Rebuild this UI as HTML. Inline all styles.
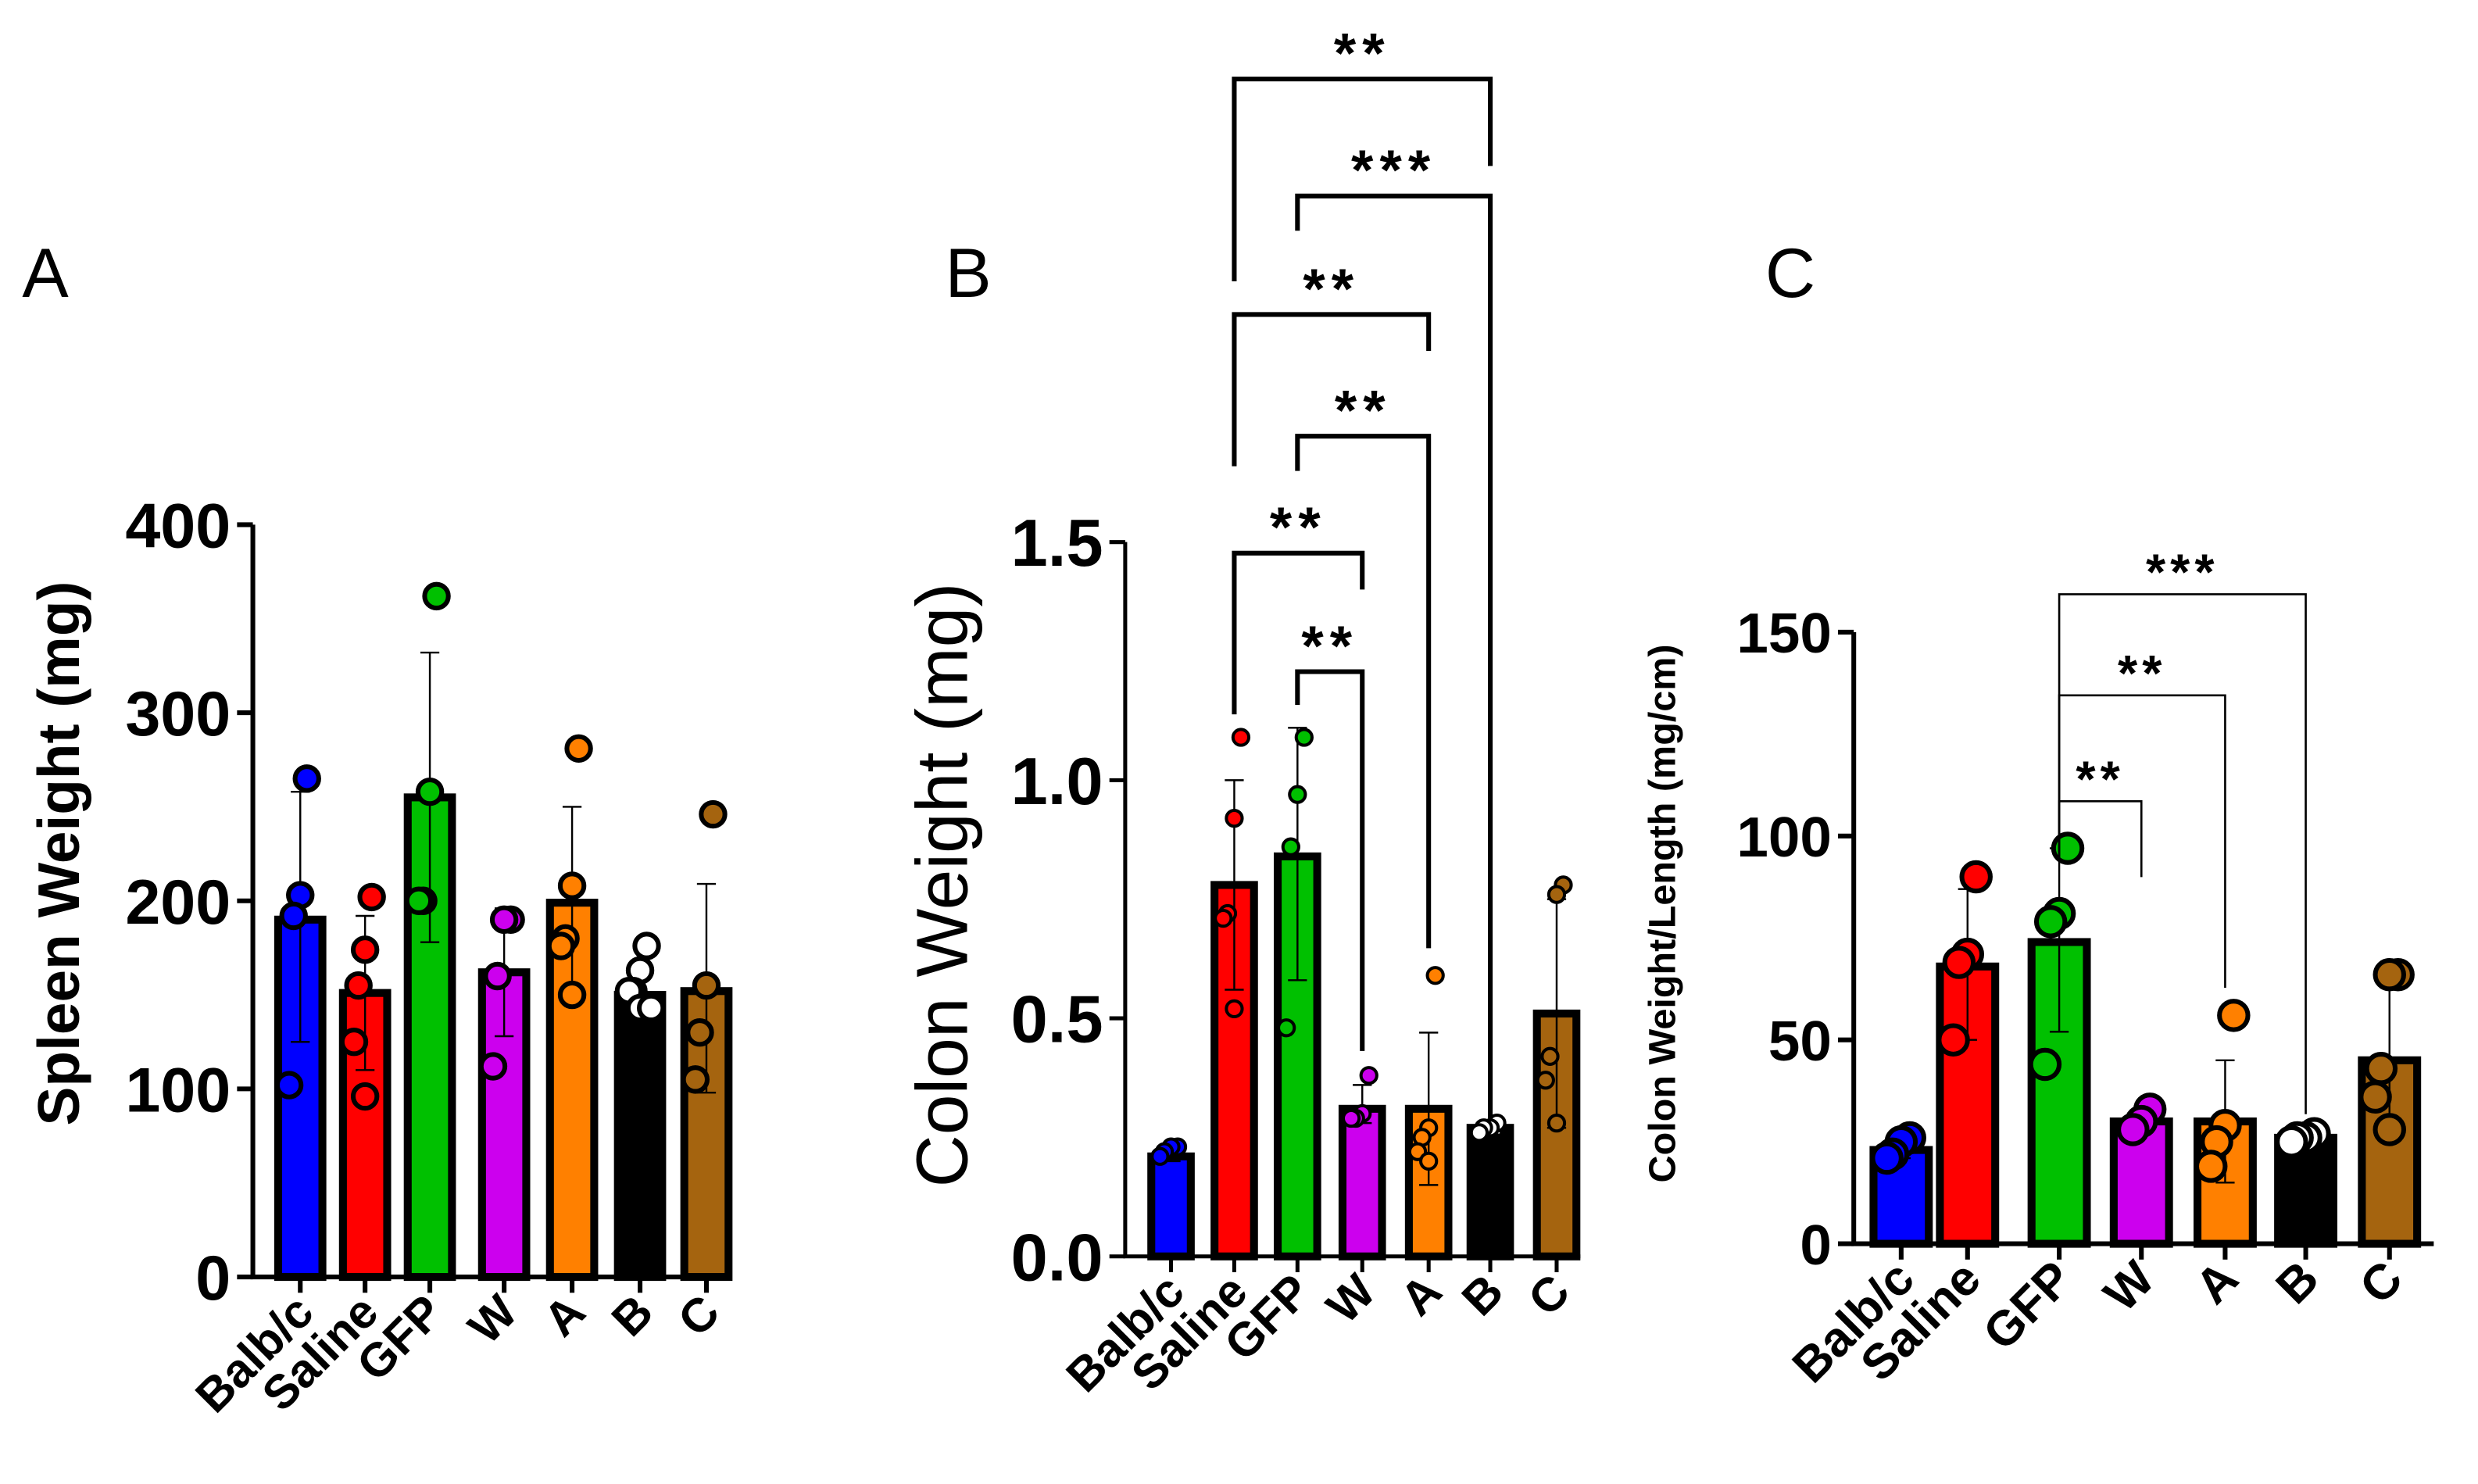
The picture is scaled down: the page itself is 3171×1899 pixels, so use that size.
<!DOCTYPE html>
<html><head><meta charset="utf-8"><style>
html,body{margin:0;padding:0;background:#fff}
svg{display:block}
text{font-family:"Liberation Sans",Arial,sans-serif}
</style></head><body>
<svg id="fig" width="3171" height="1899" viewBox="0 0 1568 939" xmlns="http://www.w3.org/2000/svg"></svg>
<script>
const groups=["Balb/c","Saline","GFP","W","A","B","C"];
const colors=["#0000ff","#ff0000","#00c000","#cc00ee","#ff8000","#000000","#a5640f"];
// Panel A
const aMeans=[190,151,255,162,199,150,152];
const aLo=[125,110,178,128,150,140,98];
const aHi=[258,192,332,196,250,160,209];
const aPts=[[265,203,192,102],[202,174,155,125,96],[362,258,200,200],[190,190,160,112],[281,208,180,176,150],[176,163,152,152,143,143],[246,155,130,105]];
const aTicks=[0,100,200,300,400];
// Panel B
const bMeans=[0.21,0.78,0.84,0.31,0.31,0.27,0.51];
const bLo=[0.20,0.56,0.58,0.28,0.15,0.26,0.27];
const bHi=[0.22,1.0,1.11,0.36,0.47,0.28,0.75];
const bPts=[[0.23,0.23,0.22,0.21],[1.09,0.92,0.72,0.71,0.52],[1.09,0.97,0.86,0.48],[0.38,0.30,0.29,0.29],[0.59,0.27,0.25,0.22,0.20],[0.28,0.27,0.27,0.26],[0.78,0.76,0.42,0.37,0.28]];
const bTicks=[0,0.5,1.0,1.5];
const bTickLabels=["0.0","0.5","1.0","1.5"];
// Panel C
const cMeans=[23,68,74,30,30,26,45];
const cLo=[21,50,52,27,15,25,27];
const cHi=[25,87,97,33,45,27,65];
const cPts=[[26,25,22,21],[90,71,69,50],[97,81,79,44],[33,30,28],[56,29,25,19],[27,26,26,25],[66,66,43,36,28]];
const cTicks=[0,50,100,150];

const NS="http://www.w3.org/2000/svg";
const svg=document.getElementById('fig');
function el(tag,attrs,parent){const e=document.createElementNS(NS,tag);for(const k in attrs)e.setAttribute(k,attrs[k]);(parent||svg).appendChild(e);return e;}

function panel(cfg){
  const g=el('g',{});
  
  
  const y=v=>cfg.y0-(v-cfg.vmin)/(cfg.vmax-cfg.vmin)*(cfg.y0-cfg.y1);
  const x=i=>cfg.xs[i];
  cfg.means.forEach((m,i)=>{
    const r=el('rect',{x:x(i)-cfg.bw/2,y:y(m),width:cfg.bw,height:cfg.y0-y(m),fill:colors[i],stroke:'#000','stroke-width':cfg.bs},g);
    
    
  });
  cfg.means.forEach((m,i)=>{
    const e=el('path',{d:`M${x(i)},${y(cfg.lo[i])}V${y(cfg.hi[i])}M${x(i)-6},${y(cfg.hi[i])}H${x(i)+6}M${x(i)-6},${y(cfg.lo[i])}H${x(i)+6}`,stroke:i==5?'#fff':'#000','stroke-width':1.2,fill:'none'},g);
    
    
  });
  cfg.pts.forEach((arr,i)=>{
    arr.forEach((v,j)=>{
      const off=(arr.length>1)?((j%3)-1)*cfg.jit*(j%2?1:-0.6):0;
      const c=el('circle',{cx:x(i)+off,cy:y(v),r:cfg.pr,fill:i==5?'#fff':colors[i],stroke:'#000','stroke-width':cfg.ps},g);
      
      
    });
  });
  const ax=el('path',{d:`M${cfg.ax},${cfg.y1}V${cfg.y0}H${cfg.axEnd}`,stroke:'#000','stroke-width':cfg.aw,fill:'none'},g);
  
  
  cfg.ticks.forEach((t,k)=>{
    el('path',{d:`M${cfg.ax-10},${y(t)}H${cfg.ax}`,stroke:'#000','stroke-width':cfg.aw},g);
    const tx=el('text',{x:cfg.ax-14,y:y(t)+cfg.tf*0.36,'text-anchor':'end','font-size':cfg.tf,'font-weight':'bold'},g);
    tx.textContent=cfg.tickLabels?cfg.tickLabels[k]:t;
    
    
  });
  groups.forEach((gname,i)=>{
    el('path',{d:`M${x(i)},${cfg.y0}V${cfg.y0+10}`,stroke:'#000','stroke-width':cfg.aw},g);
    const tx=el('text',{x:x(i)+10,y:cfg.y0+24,'text-anchor':'end','font-size':cfg.xf,'font-weight':'bold',transform:`rotate(-45 ${x(i)+10} ${cfg.y0+24})`},g);
    tx.textContent=gname;
    
    
  });
  const yt=el('text',{x:cfg.titleX,y:cfg.titleY,'text-anchor':'middle','font-size':cfg.titleF,'font-weight':cfg.titleW,transform:`rotate(-90 ${cfg.titleX} ${cfg.titleY})`},g);
  yt.textContent=cfg.title;
  
  
  const pl=el('text',{x:cfg.letterX,y:188,'font-size':44},g);
  pl.textContent=cfg.letter;
  
  
  return g;
}
panel({name:'panel-a-spleen',vmin:0,vmax:400,y0:808,y1:332,xs:[190,231,272,319,362,405,447],bw:28,bs:5,means:aMeans,lo:aLo,hi:aHi,pts:aPts,jit:7,pr:7.5,ps:3,ax:160,axEnd:462,aw:3,ticks:aTicks,tf:40,xf:30,title:'Spleen Weight (mg)',titleX:50,titleY:540,titleF:37,titleW:'bold',letter:'A',letterX:14});
panel({name:'panel-b-colon',vmin:0,vmax:1.5,y0:795,y1:343,xs:[741,781,821,862,904,943,985],bw:25,bs:5,means:bMeans,lo:bLo,hi:bHi,pts:bPts,jit:7,pr:5,ps:2,ax:712,axEnd:1000,aw:2.5,ticks:bTicks,tickLabels:bTickLabels,tf:42,xf:30,title:'Colon Weight (mg)',titleX:612,titleY:560,titleF:46,titleW:'normal',letter:'B',letterX:598});
panel({name:'panel-c-colon-per-length',vmin:0,vmax:150,y0:787,y1:400,xs:[1203,1245,1303,1355,1408,1459,1512],bw:35,bs:5,means:cMeans,lo:cLo,hi:cHi,pts:cPts,jit:9,pr:9,ps:3,ax:1173,axEnd:1540,aw:3,ticks:cTicks,tf:36,xf:31,title:'Colon Weight/Length (mg/cm)',titleX:1060,titleY:578,titleF:24,titleW:'bold',letter:'C',letterX:1117});

const bBrackets=[[1,5,50,'**'],[2,5,124,'***'],[1,4,199,'**'],[2,4,276,'**'],[1,3,350,'**'],[2,3,425,'**']];
const bLegEnds=[[178,105],[146,709],[295,222],[298,600],[452,373],[446,665]];
const bx=[741,781,821,862,904,943,985];
bBrackets.forEach((b,k)=>{
  const [i,j,yy,lab]=b;
  const p=el('path',{d:`M${bx[i]},${bLegEnds[k][0]}V${yy}H${bx[j]}V${bLegEnds[k][1]}`,stroke:'#000','stroke-width':3,fill:'none'});
  
  
  const t=el('text',{x:(bx[i]+bx[j])/2,y:yy-4,'text-anchor':'middle','font-size':36,'font-weight':'bold','letter-spacing':4});
  t.textContent=lab;
  
  
});
const cx=[1203,1245,1303,1355,1408,1459,1512];
const cBrackets=[[2,3,507,'**',555],[2,4,440,'**',625],[2,5,376,'***',705]];
cBrackets.forEach(b=>{
  const [i,j,yy,lab,end]=b;
  const p=el('path',{d:`M${cx[i]},${545}V${yy}H${cx[j]}V${end}`,stroke:'#000','stroke-width':1.3,fill:'none'});
  
  
  const t=el('text',{x:(cx[i]+cx[j])/2,y:yy-3,'text-anchor':'middle','font-size':32,'font-weight':'bold','letter-spacing':3});
  t.textContent=lab;
  
  
});
</script>
</body></html>
